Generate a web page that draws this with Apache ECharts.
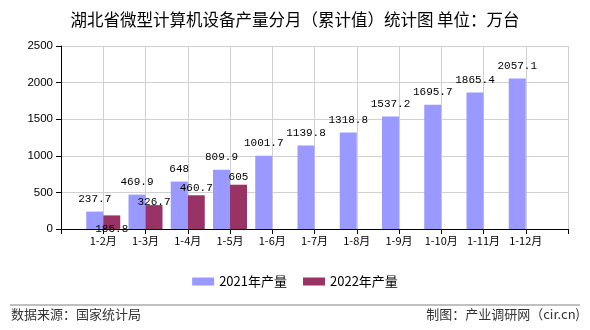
<!DOCTYPE html>
<html>
<head>
<meta charset="utf-8">
<script src="https://cdn.jsdelivr.net/npm/echarts@6/dist/echarts.min.js"></script>
<style>
html,body{margin:0;padding:0;background:#fff;}
#chart{width:590px;height:330px;}
</style>
</head>
<body>
<div id="chart"></div>
<script>
// Categories (blank pads at both ends of the axis)
var categories = ["", "1-2月", "1-3月", "1-4月", "1-5月", "1-6月", "1-7月", "1-8月", "1-9月", "1-10月", "1-11月", "1-12月", ""];
var values2021 = [null, 237.7, 469.9, 648, 809.9, 1001.7, 1139.8, 1318.8, 1537.2, 1695.7, 1865.4, 2057.1, null];
var values2022 = [null, 185.8, 326.7, 460.7, 605, null, null, null, null, null, null, null, null];
var seriesNames = ["2021年产量", "2022年产量"];
var yTicks = [0, 500, 1000, 1500, 2000, 2500];
// label vertical offsets for 2022 labels (style only)
var label2022Offsets = [0, 21, 5, 0, 0, 0, 0, 0, 0, 0, 0, 0, 0];

var chart = echarts.init(document.getElementById('chart'), null, {renderer: 'canvas'});
var labelFont = {fontFamily: 'Liberation Mono', fontSize: 11, color: '#000'};

var data2022 = values2022.map(function (v, i) {
  return {value: v, label: {offset: [0, label2022Offsets[i]]}};
});

var option = {
  backgroundColor: '#fff',
  animation: false,
  title: {
    text: '湖北省微型计算机设备产量分月（累计值）统计图 单位：万台',
    left: 'center',
    top: 6,
    textStyle: {fontSize: 16.5, fontWeight: 'normal', color: '#000', fontFamily: 'Noto Sans CJK SC'}
  },
  legend: {
    data: seriesNames,
    left: 'center',
    top: 270,
    itemWidth: 22,
    itemHeight: 8,
    itemGap: 16,
    icon: 'rect',
    textStyle: {fontSize: 13, color: '#000', fontFamily: 'Noto Sans CJK SC'}
  },
  grid: {left: 61, right: 22, top: 46, bottom: 101, containLabel: false},
  xAxis: {
    type: 'category',
    data: categories,
    boundaryGap: false,
    axisLine: {lineStyle: {color: '#000', width: 1}},
    axisTick: {show: true, length: 5, lineStyle: {color: '#000'}},
    axisLabel: {fontSize: 11, color: '#000', fontFamily: 'Noto Sans CJK SC', interval: 0, margin: 6},
    splitLine: {show: true, lineStyle: {color: '#d0d0d0', width: 1}}
  },
  yAxis: {
    type: 'value',
    min: yTicks[0],
    max: yTicks[yTicks.length - 1],
    interval: 500,
    axisLine: {show: true, lineStyle: {color: '#000', width: 1}},
    axisTick: {show: true, length: 5, lineStyle: {color: '#000'}},
    axisLabel: {fontSize: 11.5, color: '#000', fontFamily: 'Liberation Sans', margin: 8,
      formatter: function (v) { return String(v); }},
    splitLine: {show: true, lineStyle: {color: '#d0d0d0', width: 1}}
  },
  series: [
    {
      name: seriesNames[0],
      type: 'bar',
      data: values2021,
      barWidth: 17,
      barGap: '0%',
      itemStyle: {color: '#9999ff'},
      label: Object.assign({show: true, position: 'top', distance: 7}, labelFont)
    },
    {
      name: seriesNames[1],
      type: 'bar',
      data: data2022,
      barWidth: 17,
      barGap: '0%',
      itemStyle: {color: '#993366'},
      label: Object.assign({show: true, position: 'top', distance: 2}, labelFont)
    }
  ],
  graphic: [
    {type: 'line', shape: {x1: 10, y1: 305, x2: 580, y2: 305}, style: {stroke: '#808080', lineWidth: 1}},
    {type: 'text', left: 11, top: 308, style: {text: '数据来源：国家统计局', fontSize: 13, fill: '#333', fontFamily: 'Noto Sans CJK SC'}},
    {type: 'text', right: 10, top: 308, style: {text: '制图：产业调研网（cir.cn)', fontSize: 13, fill: '#333', fontFamily: 'Noto Sans CJK SC'}}
  ]
};
chart.setOption(option);
</script>
</body>
</html>
